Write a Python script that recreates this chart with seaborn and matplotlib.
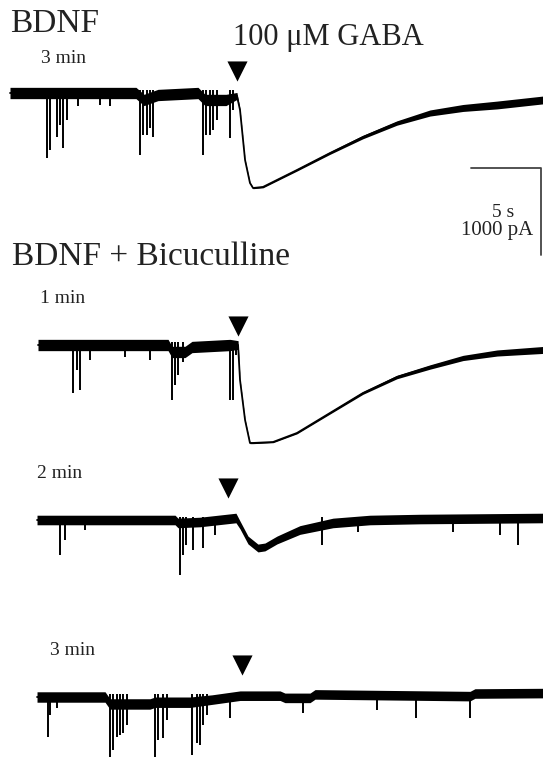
import numpy as np
import pandas as pd
import matplotlib
matplotlib.use("Agg")
from matplotlib import pyplot as plt
import seaborn as sns

# ---- data (time in s, current in pA, relative to each baseline) ----
# BDNF, 3 min
bdnf_t = [0, 9.0, 9.57, 10.57, 13.43, 13.93, 15.43, 16.21, 16.43, 16.79, 17.14, 17.36,
          18.07, 20.5, 22.86, 25.21, 27.64, 30.0, 32.36, 34.79, 38.07]
bdnf_i = [0, 0, -80, -23, 0, -80, -80, -34, -195, -770, -1034, -1092,
          -1080, -885, -690, -506, -345, -230, -172, -138, -80]
bdnf_noise = [65, 65, 65, 65, 65, 65, 65, 40, 10, 8, 8, 8, 10, 12, 15, 20, 25, 35, 40, 45, 45]
bdnf_ev_t = [2.64, 2.86, 3.36, 3.57, 3.79, 4.07, 4.86, 6.43, 7.14,
             9.29, 9.5, 9.79, 10.0, 10.21, 13.79, 14.0, 14.29, 14.5, 14.79, 15.71, 15.93]
bdnf_ev_a = [-747, -655, -506, -368, -632, -310, -150, -140, -150,
             -712, -483, -483, -402, -506, -712, -483, -483, -425, -310, -517, -195]

# BDNF + bicuculline, 1 min
bic1_t = [2.0, 11.29, 11.57, 12.5, 13.0, 15.71, 16.29, 16.43, 16.79, 17.14, 17.36,
          18.79, 20.5, 22.86, 25.21, 27.64, 30.0, 32.36, 34.79, 38.07]
bic1_i = [0, 0, -80, -80, -23, 0, 0, -402, -862, -1126, -1126,
          -1115, -1011, -781, -552, -368, -253, -149, -92, -57]
bic1_noise = [65, 65, 65, 65, 65, 65, 50, 10, 8, 8, 8, 8, 10, 12, 15, 20, 25, 30, 35, 40]
bic1_ev_t = [4.5, 4.79, 5.0, 5.71, 8.21, 10.0, 11.57, 11.79, 12.0, 12.36, 15.71, 15.93, 16.14]
bic1_ev_a = [-552, -287, -517, -172, -138, -172, -632, -460, -345, -195, -632, -632, -115]

# BDNF + bicuculline, 2 min
bic2_t = [1.93, 11.79, 12.0, 13.57, 16.14, 16.43, 17.0, 17.71, 18.21, 19.07, 20.71,
          23.07, 25.71, 29.29, 38.07]
bic2_i = [0, 0, -34, -23, 23, -57, -230, -322, -310, -230, -115, -34, 0, 11, 23]
bic2_noise = [55, 55, 55, 55, 55, 45, 45, 45, 45, 45, 50, 55, 55, 55, 55]
bic2_ev_t = [3.57, 3.93, 5.36, 12.14, 12.36, 12.57, 13.07, 13.79, 14.64,
             22.29, 24.86, 31.64, 35.0, 36.29]
bic2_ev_a = [-402, -230, -115, -632, -402, -287, -345, -322, -172,
             -287, -138, -138, -172, -287]

# BDNF + bicuculline, 3 min
bic3_t = [1.93, 6.79, 7.14, 10.0, 10.36, 12.86, 14.43, 16.43, 19.29, 19.64, 21.43,
          21.79, 32.86, 33.21, 38.07]
bic3_i = [0, 0, -80, -80, -60, -60, -30, 15, 15, -10, -10, 30, 10, 40, 45]
bic3_noise = [60, 60, 60, 60, 60, 60, 55, 55, 55, 55, 55, 55, 55, 55, 55]
bic3_ev_t = [2.71, 2.86, 3.36, 7.14, 7.36, 7.64, 7.86, 8.07, 8.36, 10.36, 10.57, 10.93,
             11.21, 13.0, 13.36, 13.57, 13.79, 14.07, 15.71, 20.93, 26.21, 29.0, 32.86]
bic3_ev_a = [-460, -207, -126, -690, -609, -460, -437, -414, -322, -690, -494, -471,
             -264, -667, -529, -552, -322, -207, -241, -184, -149, -241, -241]

gaba_t = [16.21, 16.29, 15.57, 16.57]
trace_labels = ["3 min", "1 min", "2 min", "3 min"]

# ---- layout (pixels of a 543x760 canvas) ----
W, H = 543, 760
PX_S = 14.0          # px per second
PX_PA = 87 / 1000.0  # px per pA
base_px = [93, 345, 520, 697]
arrow_lift_px = [22, 19, 32, 32]

sns.set_style("white")
plt.rcParams['font.family'] = ['Liberation Serif', 'DejaVu Serif']

fig = plt.figure(figsize=(W / 100, H / 100), dpi=100)
ax = fig.add_axes([0, 0, 1, 1])
ax.set_xlim(-10 / PX_S, (W - 10) / PX_S)
ax.set_ylim(-H / PX_PA, 0)
ax.axis('off')

traces = [(bdnf_t, bdnf_i, bdnf_noise, bdnf_ev_t, bdnf_ev_a),
          (bic1_t, bic1_i, bic1_noise, bic1_ev_t, bic1_ev_a),
          (bic2_t, bic2_i, bic2_noise, bic2_ev_t, bic2_ev_a),
          (bic3_t, bic3_i, bic3_noise, bic3_ev_t, bic3_ev_a)]

for k, (t, cur, nz, ev_t, ev_a) in enumerate(traces):
    base = -base_px[k] / PX_PA
    y = np.array(cur) + base
    nz = np.array(nz)
    ax.fill_between(t, y - nz, y + nz, color='black', lw=0)
    df = pd.DataFrame({'t': t, 'i': y})
    sns.lineplot(data=df, x='t', y='i', ax=ax, color='black', lw=1.3,
                 estimator=None, sort=False)
    ax.vlines(ev_t, base + 30, base + np.array(ev_a), color='black', lw=1.4)
    ax.scatter([gaba_t[k]], [base + arrow_lift_px[k] / PX_PA], marker='v',
               s=210, color='black', lw=0, zorder=5)

# scale bar: 5 s, 1000 pA
sb_x, sb_y = (541 - 10) / PX_S, -168 / PX_PA
ax.plot([sb_x - 5, sb_x, sb_x], [sb_y, sb_y, sb_y - 1000], color='#444444', lw=1.3)

def ftext(x, y, s, size, **kw):
    fig.text(x / W, 1 - y / H, s, fontsize=size, va='baseline', color='#222222', **kw)

ftext(10, 32, "BDNF", 24)
ftext(233, 45, "100 \u03bcM GABA", 22)
ftext(12, 265, "BDNF + Bicuculline", 24)
label_xy = [(41, 63), (40, 303), (37, 478), (50, 655)]
for (x, yy), lab in zip(label_xy, trace_labels):
    ftext(x, yy, lab, 14)
ftext(514, 217, "5 s", 14, ha='right')
ftext(533, 235, "1000 pA", 15, ha='right')

fig.savefig("out.png", dpi=100)
